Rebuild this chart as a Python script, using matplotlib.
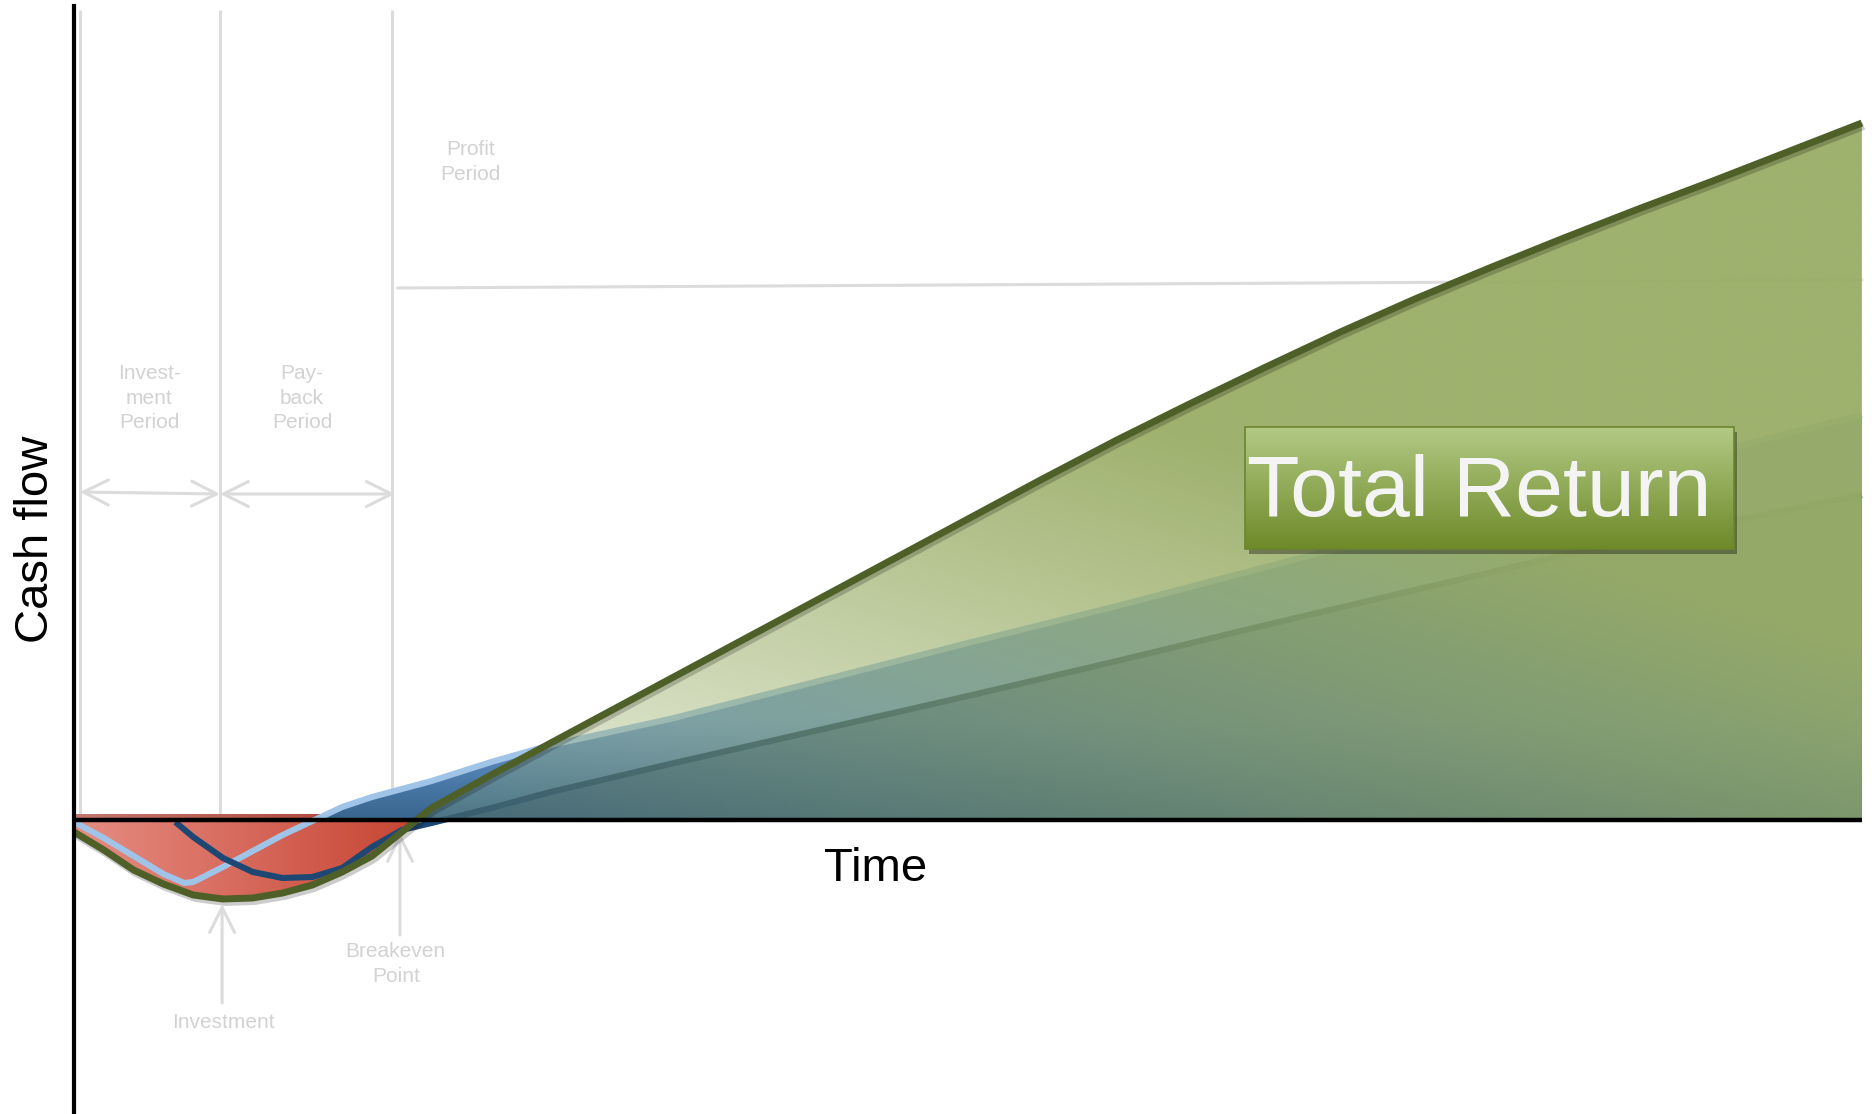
import numpy as np
import matplotlib.pyplot as plt
import matplotlib.patheffects as pe
from matplotlib.patches import Rectangle

plt.rcParams['font.family'] = ['Liberation Sans', 'DejaVu Sans']

# cumulative cash flow curves (time in months, cash flow in arbitrary units)
t_total = [0, 1, 2, 3, 4, 5, 6, 7, 8, 9, 10, 11, 12, 14, 16, 20, 22.5, 25, 27.5, 30, 32.5,
           35, 37.5, 40, 42.5, 45, 47.5, 50, 52.5, 55, 57.5, 60]
cf_total = [-1.2, -3.0, -5.0, -6.4, -7.5, -7.9, -7.8, -7.3, -6.5, -5.2, -3.6, -1.2, 1.2, 4.5,
            7.7, 14.1, 18.1, 22.1, 26.1, 30.1, 34.1, 38.0, 41.7, 45.3, 48.8, 52.1, 55.2,
            58.2, 61.1, 63.9, 66.8, 69.7]

t_fast = [0, 1, 2, 3, 3.7, 4, 5, 6, 7, 8, 9, 10, 11, 12, 14, 16, 20, 25, 30, 35, 40, 50, 60]
cf_fast = [-0.2, -1.8, -3.6, -5.4, -6.3, -6.2, -4.7, -3.1, -1.5, -0.1, 1.3, 2.3, 3.1, 3.9,
           5.8, 7.5, 10.1, 13.9, 17.7, 21.4, 25.3, 33.0, 40.5]

t_slow = [3.4, 4, 5, 6, 7, 8, 9, 10, 11, 12, 14, 16, 20, 25, 30, 35, 40, 45, 50, 60]
cf_slow = [-0.2, -1.7, -3.8, -5.2, -5.8, -5.7, -4.8, -2.7, -1.0, -0.3, 1.2, 2.8, 5.6, 9.0,
           12.4, 15.9, 19.5, 23.0, 26.5, 32.5]

# phase boundaries (investment / payback / profit)
phase_t = [0.2, 4.9, 10.67]
phase_labels = ['Invest-\nment\nPeriod', 'Pay-\nback\nPeriod', 'Profit\nPeriod']

t_total = np.array(t_total)
cf_total = np.array(cf_total)
t_fast = np.array(t_fast)
cf_fast = np.array(cf_fast)
t_slow = np.array(t_slow)
cf_slow = np.array(cf_slow)

fig = plt.figure(figsize=(18.72, 11.14), dpi=100)
ax = fig.add_axes([0, 0, 1, 1])
ax.axis('off')

guide = '#dcdcdc'
gtext = '#d2d2d2'

# gradient images used to shade the areas
ext = [0, 60, -10, 72]
T, V = np.meshgrid(np.linspace(ext[0], ext[1], 600), np.linspace(ext[2], ext[3], 400))


def shade(coll, rgba, z):
    path = coll.get_paths()[0]
    coll.set_visible(False)
    im = ax.imshow(rgba, extent=ext, origin='lower', aspect='auto',
                   interpolation='bilinear', zorder=z)
    im.set_clip_path(path, transform=ax.transData)
    return im


def rgba_img(rgb, alpha):
    img = np.zeros(T.shape + (4,))
    img[..., :3] = rgb
    img[..., 3] = alpha
    return img


# red: investment dip
f = np.clip(T / 11.5, 0, 1)[..., None]
red = np.array([0.90, 0.55, 0.51]) * (1 - f) + np.array([0.78, 0.27, 0.20]) * f
red = np.where((V > 0)[..., None], red * 0.85, red)
c = ax.fill_between(t_total, cf_total, 0.6, where=cf_total < 0.6, interpolate=True)
shade(c, rgba_img(red, 1.0), 2)

# light blue area
f = np.clip(V / 10, 0, 1)[..., None]
blue = np.array([0.22, 0.40, 0.56]) * (1 - f) + np.array([0.42, 0.60, 0.82]) * f
c = ax.fill_between(t_fast, cf_fast, 0, where=cf_fast > 0, interpolate=True)
shade(c, rgba_img(blue, 1.0), 3)

# dark blue area
c = ax.fill_between(t_slow, cf_slow, 0, where=cf_slow > 0, interpolate=True)
shade(c, rgba_img(np.array([0.17, 0.32, 0.46]), 0.6), 3.2)

ax.plot(t_fast, cf_fast, color='#a0c3e8', lw=4.4, solid_capstyle='butt',
        solid_joinstyle='round', zorder=4)
ax.plot(t_slow, cf_slow, color='#1e4873', lw=4.4, solid_capstyle='butt',
        solid_joinstyle='round', zorder=4.1)

# green overlay for the return area
alpha = np.clip(0.2 + 0.011 * (T - 11) + 0.012 * V, 0, 0.95)
c = ax.fill_between(t_total, cf_total, 0, where=cf_total > 0, interpolate=True)
shade(c, rgba_img(np.array([0.60, 0.68, 0.40]), alpha), 5)

ax.plot(t_total, cf_total, color='#4e6028', lw=5, solid_capstyle='butt',
        solid_joinstyle='round', zorder=6,
        path_effects=[pe.SimpleLineShadow(offset=(1.5, -2.5), alpha=0.2), pe.Normal()])

# guide lines and arrows
ax.vlines(phase_t, 0, 81.0, color=guide, lw=2.2, zorder=1)
ax.plot([10.87, 60], [53.2, 54.0], color=guide, lw=2.2, zorder=1)
arw = dict(arrowstyle='<->,head_length=1.8,head_width=0.9', color=guide, lw=2.2,
           shrinkA=0, shrinkB=0)
ax.annotate('', xy=(phase_t[1], 32.6), xytext=(phase_t[0], 32.8), arrowprops=arw, zorder=1)
ax.annotate('', xy=(phase_t[2] + 0.1, 32.6), xytext=(phase_t[1], 32.6), arrowprops=arw, zorder=1)
up = dict(arrowstyle='->,head_length=1.8,head_width=0.9', color=guide, lw=2.2,
          shrinkA=0, shrinkB=0)
ax.annotate('', xy=(4.97, -8.4), xytext=(4.97, -18.3), arrowprops=up, zorder=1)
ax.annotate('', xy=(10.94, -1.3), xytext=(10.94, -11.5), arrowprops=up, zorder=1)

ax.text(2.52, 42.2, phase_labels[0], ha='center', va='center', fontsize=15, color=gtext,
        linespacing=1.38)
ax.text(7.65, 42.2, phase_labels[1], ha='center', va='center', fontsize=15, color=gtext,
        linespacing=1.38)
ax.text(13.3, 65.8, phase_labels[2], ha='center', va='center', fontsize=15, color=gtext,
        linespacing=1.38)
ax.text(10.8, -14.4, 'Breakeven\nPoint', ha='center', va='center', fontsize=15, color=gtext,
        linespacing=1.38)
ax.text(5.0, -20.3, 'Investment', ha='center', va='center', fontsize=15, color=gtext)

# axes
ax.axvline(0, ymin=0, ymax=0.995, color='black', lw=3, zorder=7)
ax.hlines(0, t_total[0], t_total[-1], color='black', lw=3.2, zorder=7)
ax.text(26.9, -4.9, 'Time', ha='center', va='center', fontsize=34)
ax.text(-1.28, 28.1, 'Cash flow', ha='center', va='center', fontsize=34, rotation=90)

# "Total Return" label box
bx0, bx1, by0, by1 = 39.3, 55.7, 27.1, 39.3
ax.add_patch(Rectangle((bx0 + 0.12, by0 - 0.5), bx1 - bx0, by1 - by0, color='black',
                       alpha=0.35, lw=0, zorder=7.5))
g = np.linspace(0, 1, 100)[:, None, None]
box = np.array([0.43, 0.54, 0.16]) * (1 - g) + np.array([0.70, 0.79, 0.52]) * g
box = np.repeat(box, 10, axis=1)
ax.imshow(box, extent=[bx0, bx1, by0, by1], origin='lower', aspect='auto', zorder=8,
          interpolation='bilinear')
ax.add_patch(Rectangle((bx0, by0), bx1 - bx0, by1 - by0, fill=False, ec='#6b8530',
                       lw=1.2, zorder=8.1))
ax.text((bx0 + bx1) / 2 - 0.35, (by0 + by1) / 2 - 0.6, 'Total Return', ha='center',
        va='center', fontsize=62, color='#f4f4f4', zorder=9)

ax.set_xlim(-2.483, 60.34)
ax.set_ylim(-29.4, 82.0)

plt.savefig('out.png', dpi=100)
